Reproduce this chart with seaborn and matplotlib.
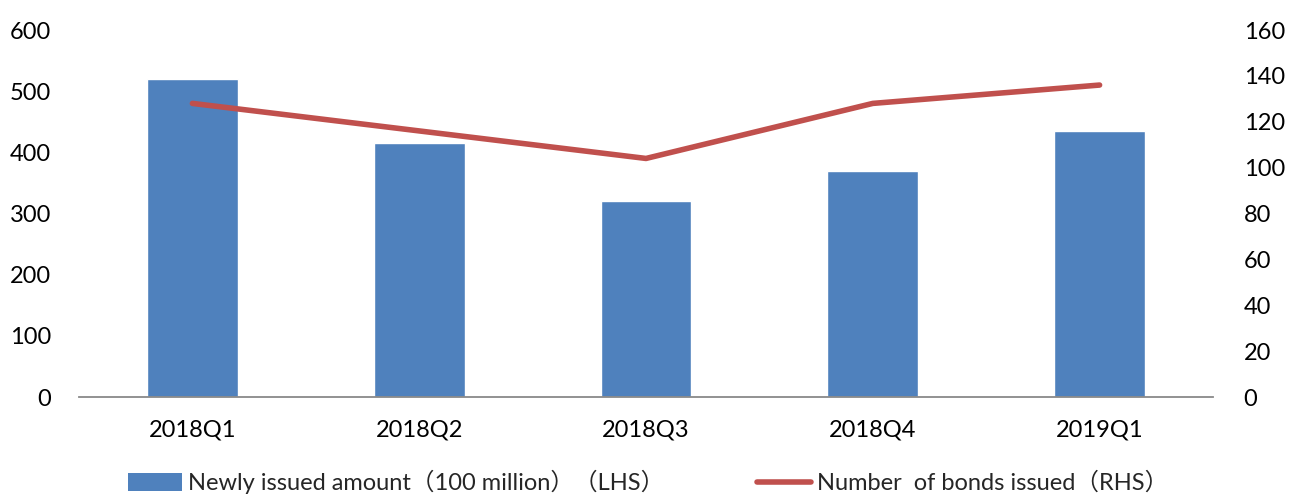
import matplotlib
matplotlib.use("Agg")
import matplotlib.pyplot as plt
import seaborn as sns
import pandas as pd
from matplotlib.patches import Patch
from matplotlib.lines import Line2D

quarters = ["2018Q1", "2018Q2", "2018Q3", "2018Q4", "2019Q1"]
amount = [520, 415, 320, 370, 435]
bonds = [128, 116, 104, 128, 136]
bar_label = "Newly issued amount\uff08100 million\uff09\uff08LHS\uff09"
line_label = "Number  of bonds issued\uff08RHS\uff09"

sns.set_theme(style="white")
plt.rcParams['font.family'] = ['Lato', 'Noto Sans CJK SC', 'DejaVu Sans']

df = pd.DataFrame({"quarter": quarters, "amount": amount, "bonds": bonds})

fig = plt.figure(figsize=(12.89, 4.97), dpi=100)
ax = fig.add_axes([79/1289, 100/497, (1213-79)/1289, 367/497])

sns.barplot(data=df, x="quarter", y="amount", color="#4F81BD", saturation=1,
            width=0.4, ax=ax)
ax2 = ax.twinx()
sns.lineplot(data=df, x="quarter", y="bonds", color="#C0504D", linewidth=4,
             ax=ax2, solid_capstyle="round")

ax.set_ylim(0, 600)
ax2.set_ylim(0, 160)
ax.set_xlim(-0.5, 4.5)
ax.set_yticks(range(0, 601, 100))
ax2.set_yticks(range(0, 161, 20))
for a in (ax, ax2):
    a.set_xlabel("")
    a.set_ylabel("")
    for s in ("left", "right", "top", "bottom"):
        a.spines[s].set_visible(False)
ax.spines["bottom"].set_visible(True)
ax.spines["bottom"].set_color("#898989")
ax.spines["bottom"].set_linewidth(1.3)
ax.tick_params(axis="both", length=0, labelsize=17, colors="black")
ax2.tick_params(axis="y", length=0, labelsize=17, colors="black")
ax.tick_params(axis="y", pad=20)
ax2.tick_params(axis="y", pad=22)
ax.tick_params(axis="x", pad=16)

handles = [Patch(facecolor="#4F81BD", edgecolor="none", label=bar_label),
           Line2D([0], [0], color="#C0504D", linewidth=4, solid_capstyle="round",
                  label=line_label)]
fig.legend(handles=handles, loc="center left", bbox_to_anchor=(128/1289, 1 - 482/497),
           ncol=2, frameon=False, fontsize=17, handlelength=2.3, handleheight=0.75,
           handletextpad=0.25, columnspacing=3.9, borderaxespad=0, borderpad=0)

fig.savefig("out.png", dpi=100)
